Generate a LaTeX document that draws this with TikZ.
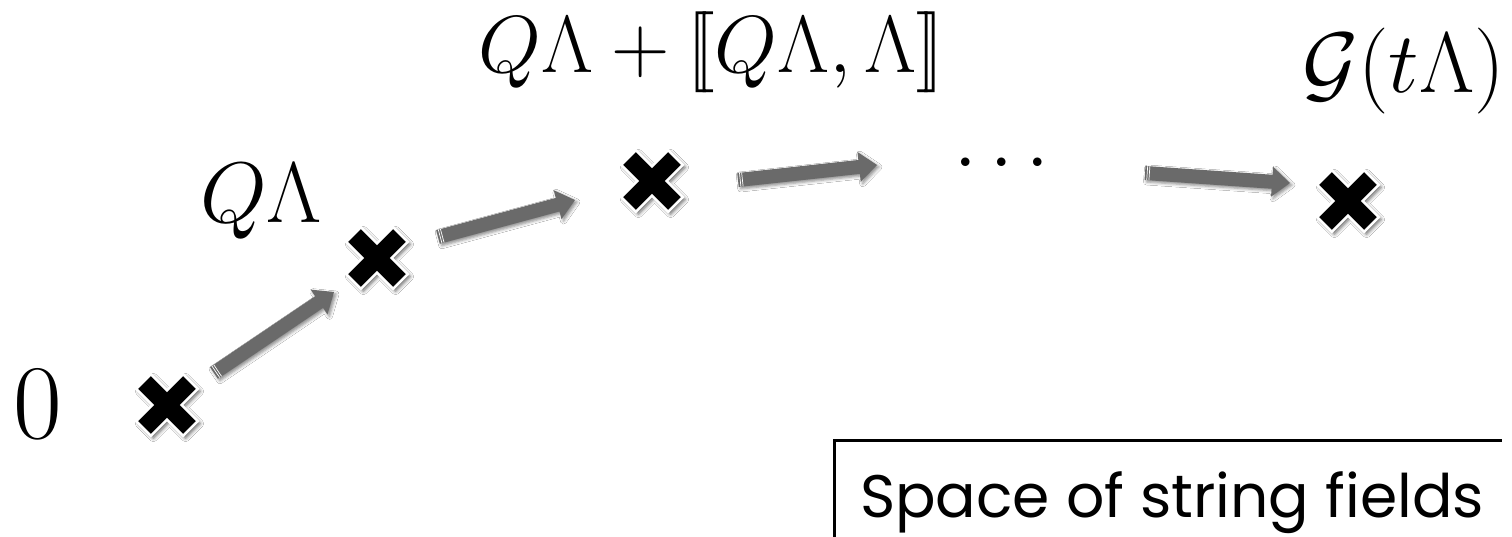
\RequirePackage{fix-cm}
\documentclass[tikz,border=0pt]{standalone}
\usepackage{fontspec}
\newfontfamily\handfont{Poppins}
\usetikzlibrary{calc,shadows.blur}
\definecolor{arrowgray}{HTML}{6A6A6A}
\tikzset{
  mathlab/.style={inner sep=0pt, font=\fontsize{86}{100}\selectfont},
  toplab/.style={inner sep=0pt, font=\fontsize{81}{94}\selectfont},
  zerolab/.style={inner sep=0pt, font=\fontsize{106}{120}\selectfont},
  xshape/.style={fill=black, draw=white, line width=2.5pt, line join=miter,
    blur shadow={shadow xshift=2.5pt, shadow yshift=-2.5pt, shadow blur radius=3.5pt, shadow opacity=60}},
  arrowbody/.style={fill=arrowgray,
    blur shadow={shadow xshift=2pt, shadow yshift=-2pt, shadow blur radius=3pt, shadow opacity=45}},
  stripe/.style={white, line width=0.7pt},
  frameline/.style={line width=3pt, black},
  pics/xmark/.style={code={
    \path[xshape] (0,14.6) -- (16.1,30.7) -- (30.7,16.1) -- (14.6,0) -- (30.7,-16.1)
      -- (16.1,-30.7) -- (0,-14.6) -- (-16.1,-30.7) -- (-30.7,-16.1) -- (-14.6,0)
      -- (-30.7,16.1) -- (-16.1,30.7) -- cycle;}},
}
\newcommand\myblockarrow[2]{%
  \coordinate (neck) at ($(#2)!18pt!(#1)$);
  \coordinate (sa) at ($(#1)!2.2pt!(#2)$);
  \coordinate (sb) at ($(#1)!4.4pt!(#2)$);
  \path[arrowbody] ($(#1)!7pt!90:(#2)$) -- ($(neck)!7pt!90:(#2)$) -- ($(neck)!15pt!90:(#2)$)
    -- (#2) -- ($(neck)!15pt!-90:(#2)$) -- ($(neck)!7pt!-90:(#2)$) -- ($(#1)!7pt!-90:(#2)$) -- cycle;
  \draw[stripe] ($(sa)!7pt!90:(#2)$) -- ($(sa)!7pt!-90:(#2)$);
  \draw[stripe] ($(sb)!7pt!90:(#2)$) -- ($(sb)!7pt!-90:(#2)$);
}
\begin{document}
\begin{tikzpicture}[x=1pt,y=-1pt]
\clip (0,0) rectangle (1512,537);
\fill[white] (0,0) rectangle (1512,537);
% crosses
\coordinate (c1) at (167,405);
\coordinate (c2) at (377,258);
\coordinate (c3) at (652,181);
\coordinate (c4) at (1348,201);
\foreach \c in {c1,c2,c3,c4} {\pic at (\c) {xmark};}
% arrows
\coordinate (a1t) at (214,373); \coordinate (a1h) at (334,292);
\coordinate (a2t) at (438,237); \coordinate (a2h) at (575,200);
\coordinate (a3t) at (738,180); \coordinate (a3h) at (877,165);
\coordinate (a4t) at (1145,173); \coordinate (a4h) at (1290,183);
\myblockarrow{a1t}{a1h}
\myblockarrow{a2t}{a2h}
\myblockarrow{a3t}{a3h}
\myblockarrow{a4t}{a4h}
% labels
\node[zerolab] (l0) at (38,404) {$0$};
\node[mathlab, anchor=base] (l1) at (261,223) {$Q\Lambda$};
\node[toplab, anchor=base] (l2) at (711,73) {$Q\Lambda+[\![Q\Lambda,\Lambda]\!]$};
\node[toplab, anchor=base] (dots) at (1002,183) {$\cdots$};
\node[mathlab, anchor=base west] (l4) at (1302,93) {$\mathcal{G}(t\Lambda)$};
% frame
\draw[frameline] (834,560) -- (834,440) -- (1502,440);
\node[anchor=base, inner sep=0pt, font=\handfont\fontsize{60}{72}\selectfont] (space) at (1172,517) {Space of string fields};
\end{tikzpicture}
\end{document}
